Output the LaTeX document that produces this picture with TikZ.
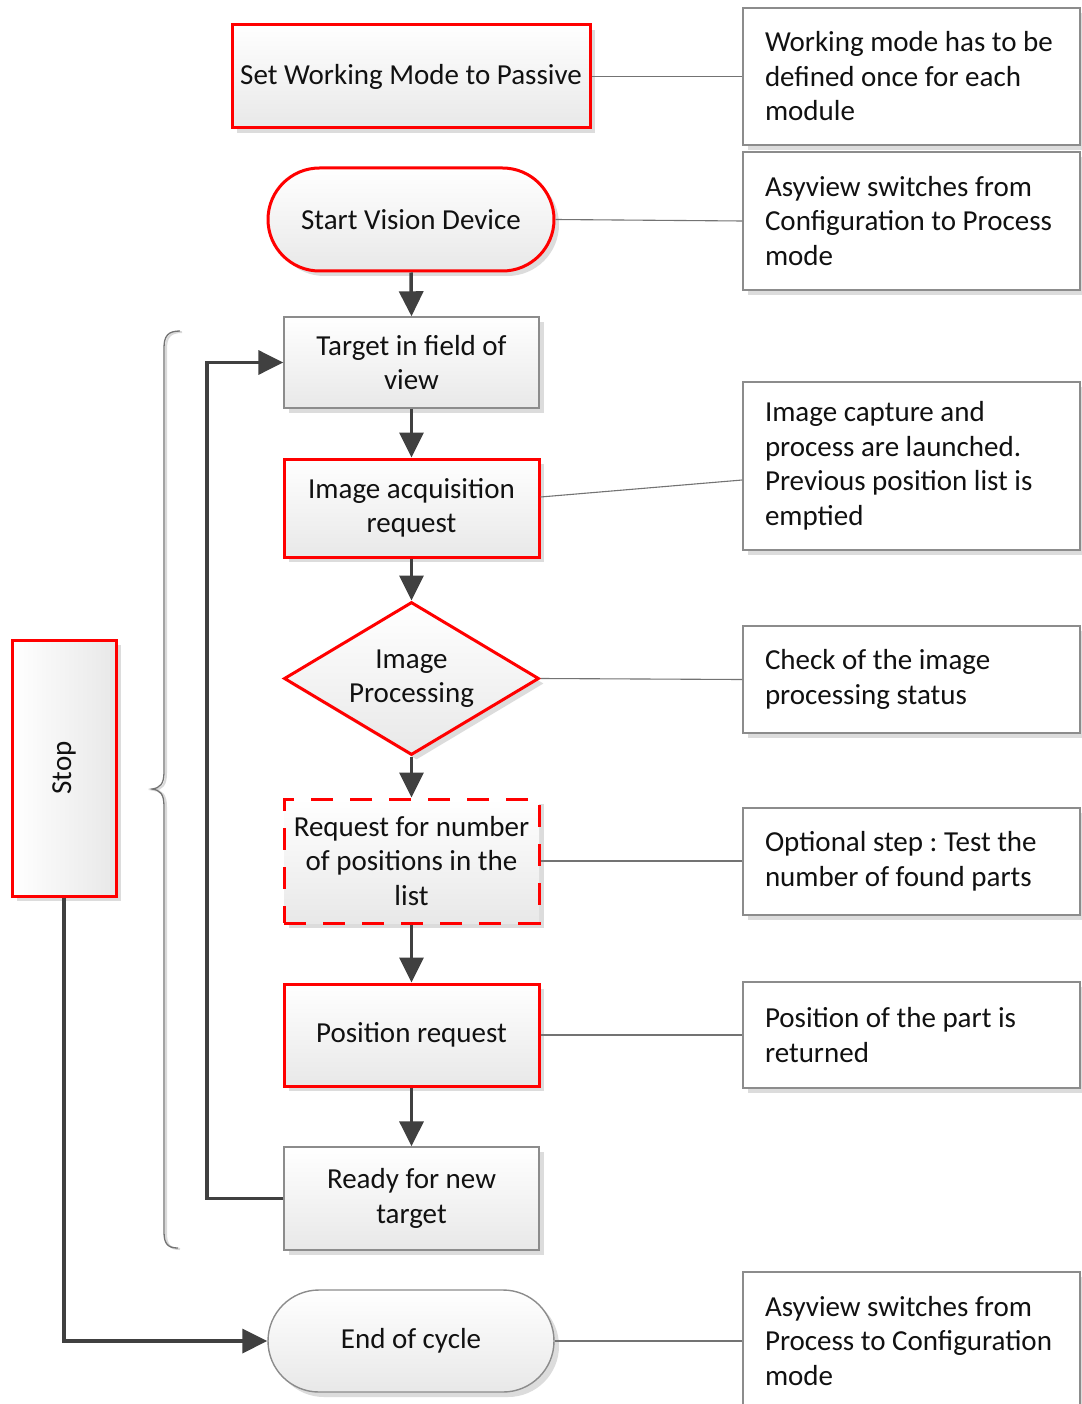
\documentclass[tikz,border=0pt]{standalone}
\usepackage{fontspec}
\setmainfont{Carlito}
\usetikzlibrary{shapes.geometric,shapes.misc,shadows,arrows.meta,calc}

\definecolor{arrowgray}{HTML}{404040}
\definecolor{framegray}{HTML}{8C8C8C}
\definecolor{txt}{HTML}{111111}

\tikzset{
  basetext/.style={font=\fontsize{29}{34.5}\selectfont, text=txt, align=center, inner sep=0pt,
                   execute at begin node={\frenchspacing\spaceskip=0pt\xspaceskip=0pt}},
  shade/.style={drop shadow={shadow xshift=5pt, shadow yshift=-5pt, opacity=.45, fill=black!30}},
  redpen/.style={basetext, draw=red, line width=3pt, shade},
  redframe/.style={redpen, top color=white, bottom color=black!9},
  grayframe/.style={basetext, draw=framegray, line width=1.4pt, top color=white, bottom color=black!9, shade},
  stepbox/.style={rectangle, minimum width=255pt},
  terminal/.style={rounded rectangle, minimum width=286pt, minimum height=103pt},
  note/.style={basetext, draw=framegray, line width=1.4pt, fill=white, shade, align=left,
               text width=293pt, inner xsep=22pt, inner ysep=0pt},
  flow/.style={draw=arrowgray, line width=3.5pt, -{Triangle[length=25pt,width=24pt]}},
  link/.style={draw=black!55, line width=1.1pt},
  bracepen/.style={draw=black!55, line width=1.3pt},
}

\begin{document}
\begin{tikzpicture}[x=1pt,y=-1pt]
\useasboundingbox[fill=white] (0,0) rectangle (1081,1404);

% brace grouping the repeated cycle
\draw[bracepen, draw=black!15, line width=2pt, xshift=2pt, yshift=-1pt]
  (180,331) .. controls (168,331) and (164,336) .. (164,348) -- (164,772)
  .. controls (164,784) and (160,788) .. (152,789)
  .. controls (160,790) and (164,794) .. (164,806) -- (164,1232)
  .. controls (164,1244) and (168,1248) .. (178,1248);
\draw[bracepen]
  (180,331) .. controls (168,331) and (164,336) .. (164,348) -- (164,772)
  .. controls (164,784) and (160,788) .. (152,789)
  .. controls (160,790) and (164,794) .. (164,806) -- (164,1232)
  .. controls (164,1244) and (168,1248) .. (178,1248);

% flow chart steps
\node[redframe, rectangle, minimum width=358pt, minimum height=103pt] (mode) at (411,76.5) {Set Working Mode to Passive};
\node[redframe, terminal] (start) at (411,219.5) {Start Vision Device};
\node[grayframe, stepbox, minimum height=91pt] (target) at (411.5,362.5) {Target in field of\\view};
\node[redframe, stepbox, minimum height=98pt] (acq) at (411.5,508) {Image acquisition\\request};
\node[redframe, diamond, aspect=1.667, minimum width=255pt, minimum height=153pt] (proc) at (411.5,678.5) {Image\\Processing};
\node[redframe, stepbox, dash pattern=on 22pt off 17pt, minimum height=124pt] (count) at (411.5,861) {Request for number\\of positions in the\\list};
\node[redframe, stepbox, minimum height=102pt] (pos) at (411.5,1035) {Position request};
\node[grayframe, stepbox, minimum height=103pt] (ready) at (411.5,1198.5) {Ready for new\\target};
\node[grayframe, terminal, minimum height=102pt] (finish) at (411,1341) {End of cycle};
\node[redpen, rectangle, minimum width=104pt, minimum height=256pt,
      left color=white, right color=black!9] (stop) at (64,768) {\rotatebox{90}{Stop}};

% explanatory notes
\node[note, minimum height=137pt] (n1) at (911.5,76.5) {Working mode has to be\\defined once for each\\module};
\node[note, minimum height=138pt] (n2) at (911.5,221) {Asyview switches from\\Configuration to Process\\mode};
\node[note, minimum height=168pt] (n3) at (911.5,466) {Image capture and\\process are launched.\\Previous position list is\\emptied};
\node[note, minimum height=107pt] (n4) at (911.5,679.5) {Check of the image\\processing status};
\node[note, minimum height=107pt] (n5) at (911.5,861.5) {Optional step : Test the\\number of found parts};
\node[note, minimum height=106pt] (n6) at (911.5,1035) {Position of the part is\\returned};
\node[note, minimum height=138pt] (n7) at (911.5,1341) {Asyview switches from\\Process to Configuration\\mode};

% links to the notes
\draw[link] (mode.east) -- (n1.west);
\draw[link] (start.east) -- (n2.west);
\draw[link] ($(acq.east)+(0,-11)$) -- ($(n3.west)+(0,14)$);
\draw[link] (proc.east) -- (n4.west);
\draw[link] (count.east) -- (n5.west |- count.east);
\draw[link] (pos.east) -- (n6.west);
\draw[link] (finish.east) -- (n7.west);

% main flow
\draw[flow] (start.south) -- (target.north);
\draw[flow] (target.south) -- (acq.north);
\draw[flow] (acq.south) -- (proc.north);
\draw[flow] (proc.south) -- (count.north);
\draw[flow] (count.south) -- (pos.north);
\draw[flow] (pos.south) -- (ready.north);

% loop back and exit
\coordinate (loopx) at (207,0);
\draw[flow] (ready.west) -- (ready.west -| loopx) |- (target.west);
\draw[flow] (stop.south) |- (finish.west);
\end{tikzpicture}
\end{document}
